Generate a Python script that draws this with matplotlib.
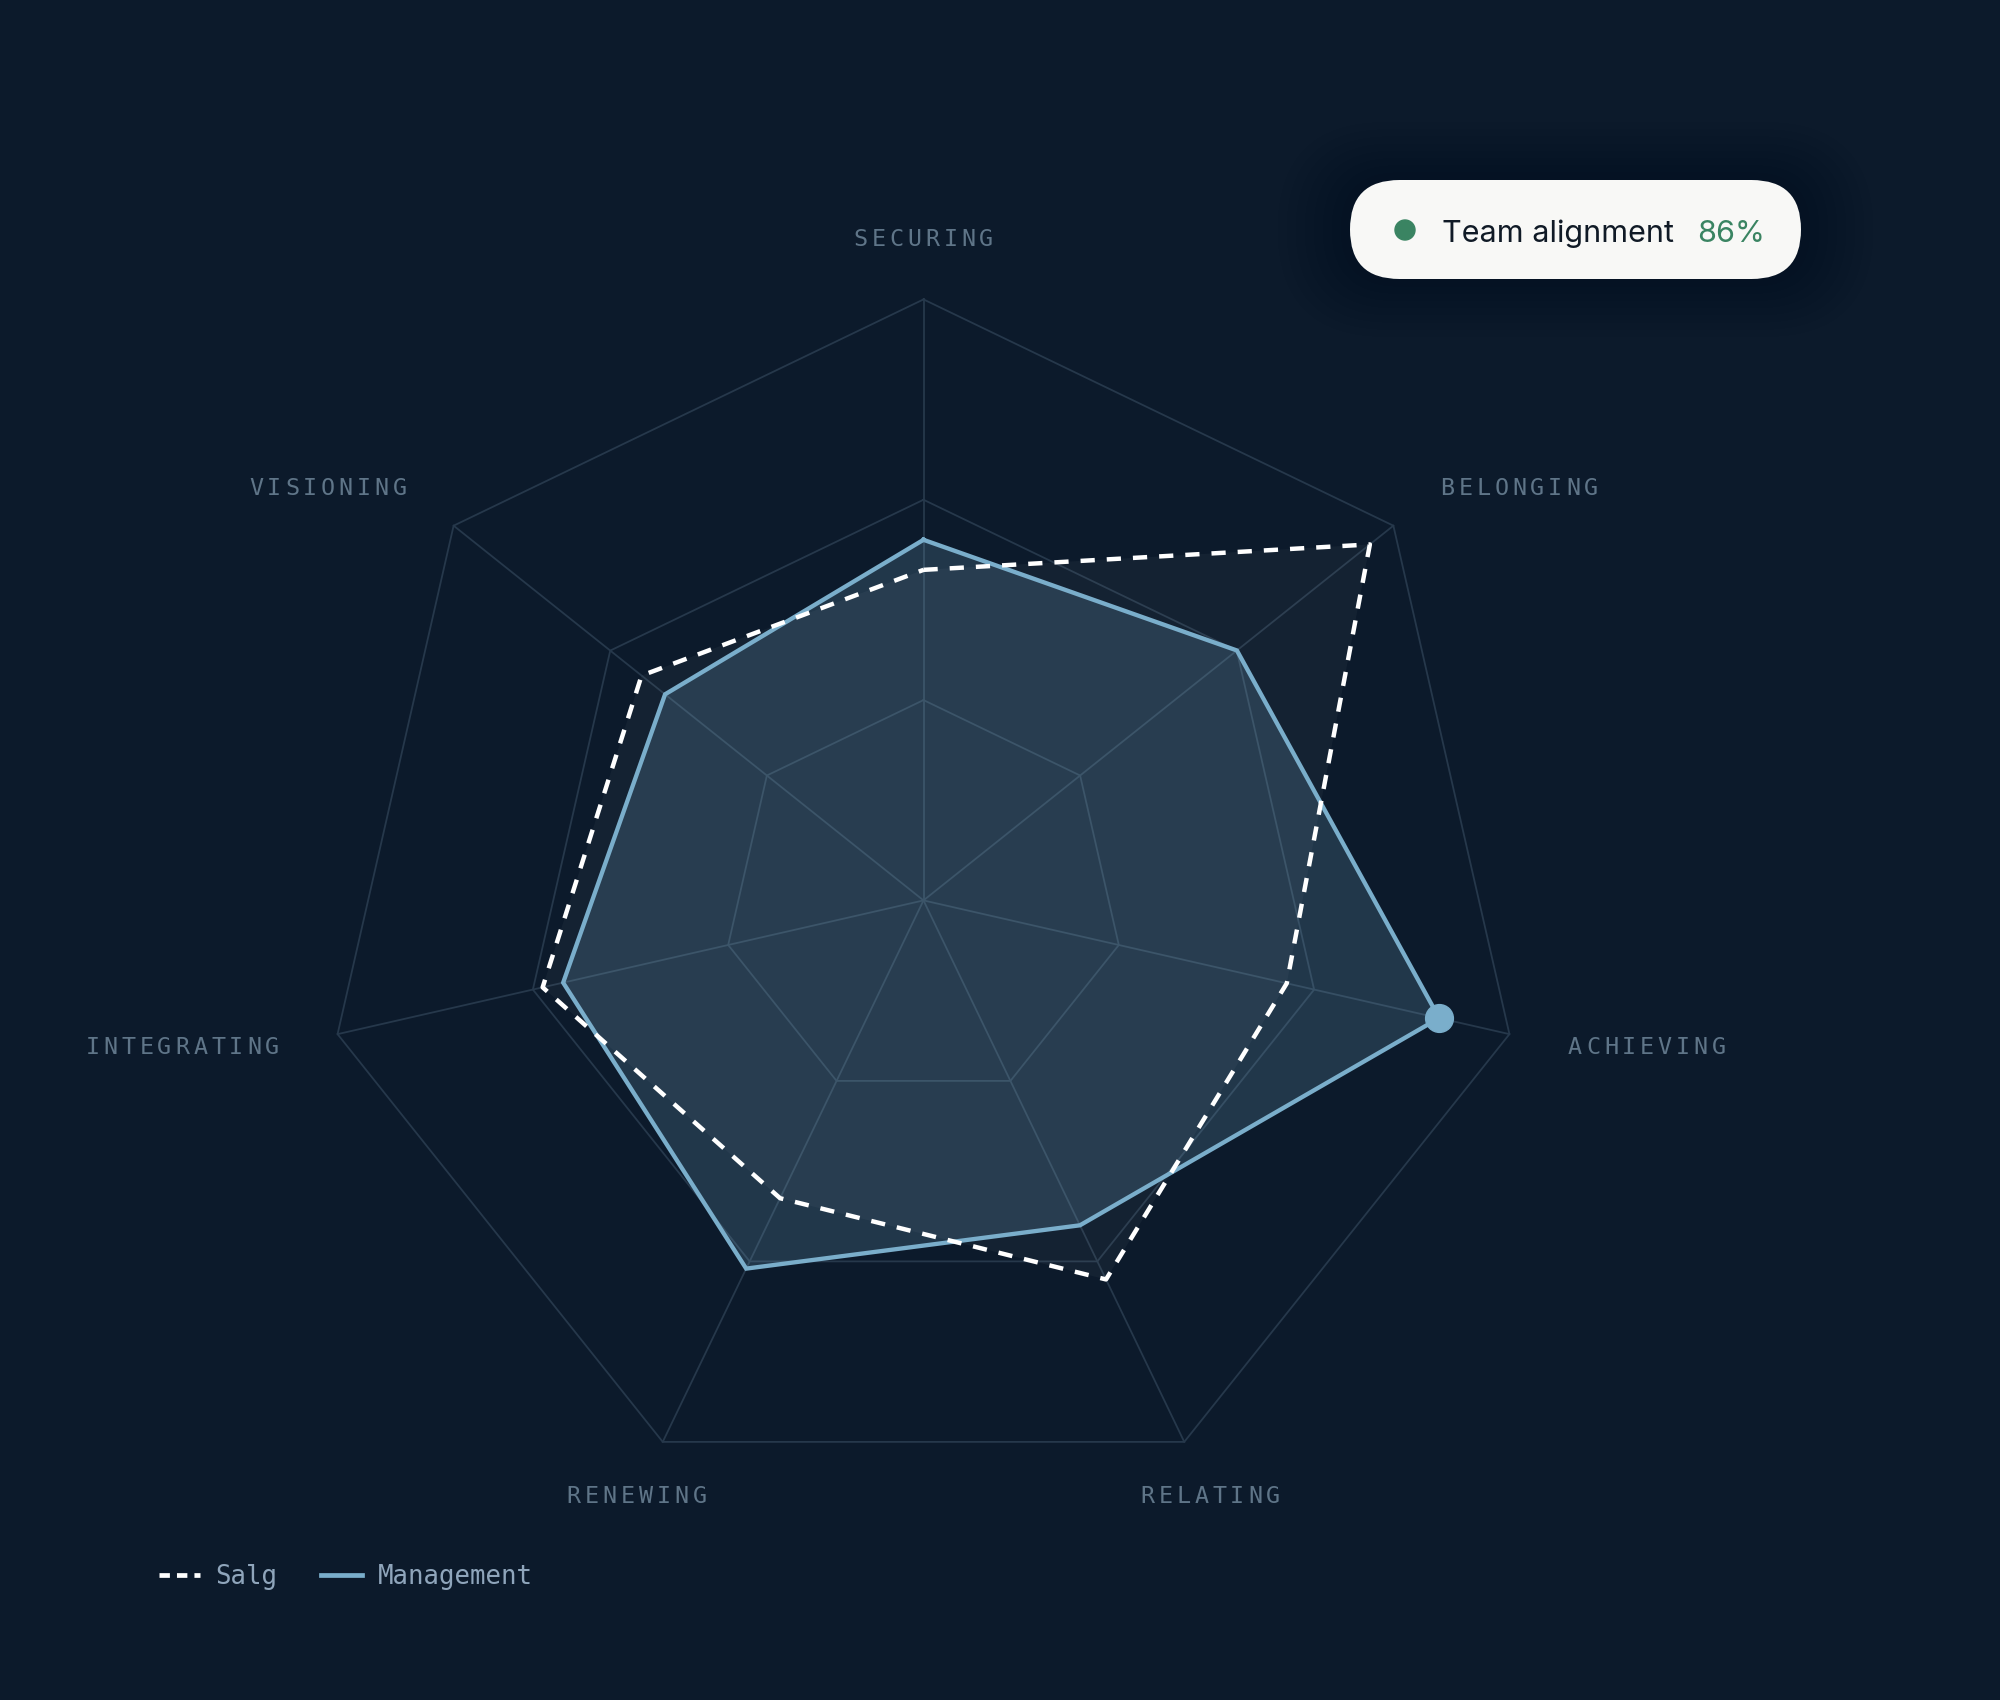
import numpy as np
import matplotlib.pyplot as plt
from matplotlib import transforms
from matplotlib.lines import Line2D
from matplotlib.patches import FancyBboxPatch, Circle

# data
categories = ["SECURING", "BELONGING", "ACHIEVING", "RELATING",
              "RENEWING", "INTEGRATING", "VISIONING"]
salg = [0.55, 0.95, 0.62, 0.70, 0.55, 0.65, 0.60]
management = [0.60, 0.667, 0.88, 0.60, 0.68, 0.615, 0.55]
ring_levels = [1 / 3, 2 / 3, 1.0]
highlight = "ACHIEVING"
alignment_label = "Team alignment"
alignment_value = 86

BG = "#0c1a2b"
GRID = "#26384b"
BLUE = "#7aaecb"
LABEL = "#5f7588"
LEGEND_TXT = "#8fa5bb"
GREEN = "#3a8462"
MONO = "DejaVu Sans Mono"


def spaced_text(ax, x, y, s, ha, size, spacing, **kw):
    """mono text with extra letter spacing (points)"""
    adv = 0.602 * size + spacing
    total = len(s) * adv - spacing
    start = {"left": 0, "center": -total / 2, "right": -total}[ha]
    for i, ch in enumerate(s):
        tr = transforms.offset_copy(ax.transData, fig=ax.figure,
                                    x=start + i * adv, y=0, units="points")
        ax.text(x, y, ch, transform=tr, ha="left", va="center",
                fontsize=size, family=MONO, **kw)


fig = plt.figure(figsize=(20, 17), dpi=100, facecolor=BG)
ax = fig.add_axes([0.16125, 0.1168, 0.601, 0.7071], projection="polar")
ax.set_theta_zero_location("N")
ax.set_theta_direction(-1)
ax.set_ylim(0, 1)
ax.axis("off")

n = len(categories)
theta = np.arange(n) * 2 * np.pi / n
closed = np.append(theta, theta[0])

# grid rings + spokes
for lvl in ring_levels:
    ax.plot(closed, [lvl] * (n + 1), color=GRID, lw=1.3, zorder=1, clip_on=False)
for t in theta:
    ax.plot([t, t], [0, 1], color=GRID, lw=1.3, zorder=1, clip_on=False)

sv = np.append(salg, salg[0])
mv = np.append(management, management[0])

ax.fill(closed, sv, color="white", alpha=0.035, lw=0, zorder=2)
ax.fill(closed, mv, color=BLUE, alpha=0.2, lw=0, zorder=2)
ax.plot(closed, mv, color=BLUE, lw=3.1, zorder=3, solid_joinstyle="miter")
ax.plot(closed, sv, color="white", lw=3.2, dashes=(3.2, 2.7), zorder=4)

hi = categories.index(highlight)
ax.plot(theta[hi], management[hi], "o", ms=20, color=BLUE, zorder=5)

# axis labels
for t, name in zip(theta, categories):
    s = np.sin(t)
    ha = "center" if abs(s) < 0.5 else ("left" if s > 0 else "right")
    spaced_text(ax, t, 1.1, name, ha, 16.8, 2.8, color=LABEL)

# legend
handles = [
    Line2D([], [], color="white", lw=3.4, dashes=(2.2, 1.5)),
    Line2D([], [], color=BLUE, lw=3.4),
]
fig.legend(handles, ["Salg", "Management"], loc="center left",
           bbox_to_anchor=(159 / 2000, 123 / 1700), ncol=2, frameon=False,
           borderpad=0, borderaxespad=0, handlelength=1.6,
           handletextpad=0.6, columnspacing=1.7,
           prop={"family": MONO, "size": 18.5}, labelcolor=LEGEND_TXT)

# alignment badge, drawn in pixel coords
ov = fig.add_axes([0, 0, 1, 1], zorder=5)
ov.set_xlim(0, 2000)
ov.set_ylim(1700, 0)
ov.axis("off")
for k in range(8, 0, -1):
    g = k * 9
    ov.add_patch(FancyBboxPatch((1350 - g, 180 - g * 0.8), 451 + 2 * g, 99 + 1.6 * g,
                                boxstyle=f"round,pad=0,rounding_size={49.5 + g * 0.8}",
                                fc="#050d16", ec="none", alpha=0.03))
ov.add_patch(FancyBboxPatch((1350, 180), 451, 99,
                            boxstyle="round,pad=0,rounding_size=49.5",
                            fc="#f8f8f6", ec="none"))
ov.add_patch(Circle((1405, 230), 10, color=GREEN))
ov.text(1442, 242, alignment_label, fontsize=22, family="Inter",
        color="#101a26", va="baseline", ha="left")
ov.text(1697, 242, f"{alignment_value}%", fontsize=22, family="Inter",
        color=GREEN, va="baseline", ha="left")

fig.savefig("out.png", dpi=100, facecolor=BG)
